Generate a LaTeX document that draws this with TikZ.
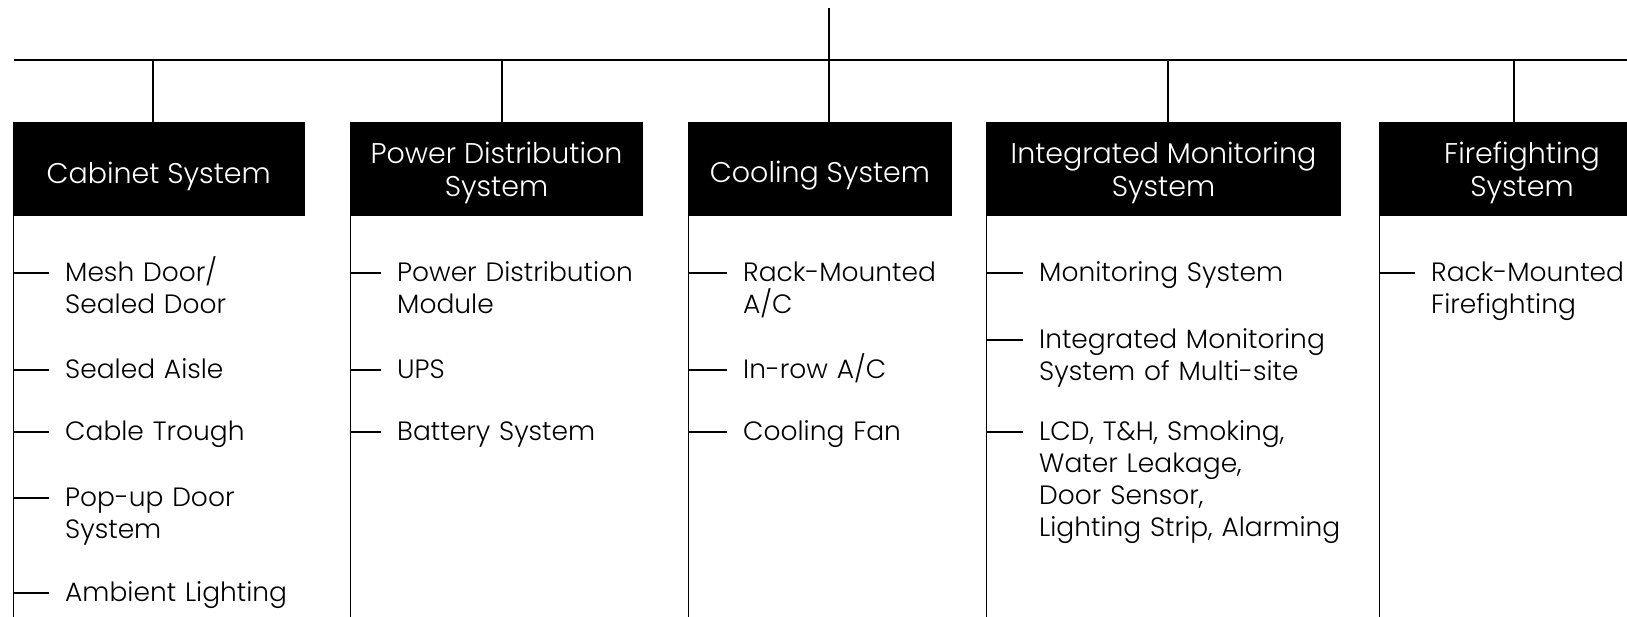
\documentclass[tikz,border=0pt]{standalone}
\usepackage{fontspec}
\IfFontExistsTF{Poppins Light}{\setmainfont{Poppins Light}}{\setmainfont{Poppins}}
\usetikzlibrary{positioning}

\begin{document}
\begin{tikzpicture}[x=1pt,y=-1pt]
	\tikzset{head/.style={fill=black,
				inner sep=0pt,
				minimum height=94pt},
			headtext/.style={text=white,
				inner sep=0pt,
				align=center,
				font=\fontsize{28.5}{32.5}\selectfont},
			item/.style={anchor=base west,
				inner sep=0pt,
				text width=330pt,
				align=left,
				font=\fontsize{26.5}{32}\selectfont},
			link/.style={line width=1.1pt},
			bus/.style={line width=1.6pt}}
	\useasboundingbox (0,0) rectangle (1627,617);
	\clip (0,0) rectangle (1627,617);

	% Heads
	\node[head, minimum width=292.5pt] (cabinet) at (158.75,169) {};
	\node[head, minimum width=293pt] (power) at (496.5,169) {};
	\node[head, minimum width=264pt] (cooling) at (820,169) {};
	\node[head, minimum width=355pt] (monitor) at (1163.5,169) {};
	\node[head, minimum width=286pt] (fire) at (1522,169) {};
	\node[headtext] (cabinetT) at ([yshift=-7pt]cabinet.center) {Cabinet System};
	\node[headtext] (powerT) at ([yshift=-4pt]power.center) {Power Distribution\\System};
	\node[headtext] (coolingT) at ([yshift=-7pt]cooling.center) {Cooling System};
	\node[headtext] (monitorT) at ([yshift=-4pt]monitor.center) {Integrated Monitoring\\System};
	\node[headtext] (fireT) at ([yshift=-4pt]fire.center) {Firefighting\\System};

	% Bus
	\coordinate (root) at (829,8);
	\coordinate (busL) at (14,60);
	\coordinate (busR) at (1627,60);
	\coordinate (tapA) at (153,60);
	\coordinate (tapB) at (502,60);
	\coordinate (tapD) at (1168,60);
	\coordinate (tapE) at (1514,60);
	\coordinate (floor) at (0,617);
	\draw[bus] (busL) -- (busR);
	\draw[link] (root) -- (root |- cooling.north);
	\draw[link] (tapA) -- (tapA |- cabinet.north);
	\draw[link] (tapB) -- (tapB |- power.north);
	\draw[link] (tapD) -- (tapD |- monitor.north);
	\draw[link] (tapE) -- (tapE |- fire.north);

	% Rails
	\draw[link] ([xshift=1pt]cabinet.south west) -- ([xshift=1pt]cabinet.south west |- floor);
	\draw[link] ([xshift=1pt]power.south west) -- ([xshift=1pt]power.south west |- floor);
	\draw[link] ([xshift=1pt]cooling.south west) -- ([xshift=1pt]cooling.south west |- floor);
	\draw[link] ([xshift=1pt]monitor.south west) -- ([xshift=1pt]monitor.south west |- floor);
	\draw[link] ([xshift=1pt]fire.south west) -- ([xshift=1pt]fire.south west |- floor);

	% Items
	\node[item] (cab1) at (65,281.5) {Mesh Door/\\Sealed Door};
	\node[item] (cab2) at (65,378.5) {Sealed Aisle};
	\node[item] (cab3) at (65,440.5) {Cable Trough};
	\node[item] (cab4) at (65,506.5) {Pop-up Door\\System};
	\node[item] (cab5) at (65,601.5) {Ambient Lighting};
	\node[item] (pow1) at (397,281.5) {Power Distribution\\Module};
	\node[item] (pow2) at (397,378.5) {UPS};
	\node[item] (pow3) at (397,440.5) {Battery System};
	\node[item] (cool1) at (743,281.5) {Rack-Mounted\\A/C};
	\node[item] (cool2) at (743,378.5) {In-row A/C};
	\node[item] (cool3) at (743,440.5) {Cooling Fan};
	\node[item] (mon1) at (1039,281.5) {Monitoring System};
	\node[item] (mon2) at (1039,348.5) {Integrated Monitoring\\System of Multi-site};
	\node[item] (mon3) at (1039,440.5) {LCD, T\&H, Smoking,\\Water Leakage,\\Door Sensor,\\Lighting Strip, Alarming};
	\node[item] (fire1) at (1431,281.5) {Rack-Mounted\\Firefighting};

	% Ticks
	\foreach \h/\i in {cabinet/cab1,cabinet/cab2,cabinet/cab3,cabinet/cab4,cabinet/cab5,
			power/pow1,power/pow2,power/pow3,
			cooling/cool1,cooling/cool2,cooling/cool3,
			monitor/mon1,monitor/mon2,monitor/mon3,
			fire/fire1}{
		\coordinate (tick) at ([xshift=-16pt,yshift=8.5pt]\i.base west);
		\draw[link] ([xshift=1pt]\h.south west |- tick) -- (tick);
	}
\end{tikzpicture}
\end{document}
